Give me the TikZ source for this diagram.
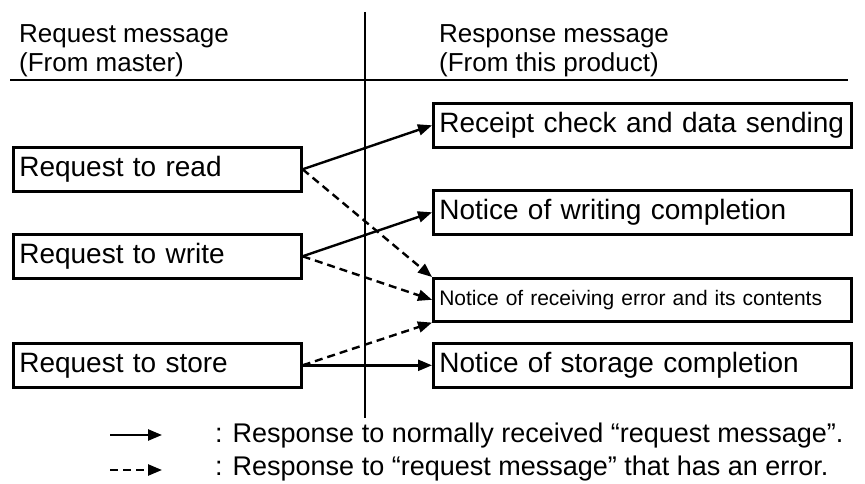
\documentclass[tikz,border=0pt]{standalone}
\usepackage{fontspec}
\setmainfont{Liberation Sans}
\usetikzlibrary{arrows.meta}
\tikzset{
  reqbox/.style={draw, line width=2.6pt, anchor=north west, minimum width=288pt, minimum height=44pt,
     text width=276pt, inner xsep=6pt, inner ysep=0pt, align=left, font=\fontsize{28}{30}\selectfont},
  resbox/.style={draw, line width=2.6pt, anchor=north west, minimum width=418pt, minimum height=44pt,
     text width=406pt, inner xsep=6pt, inner ysep=0pt, align=left, font=\fontsize{28}{30}\selectfont},
  hdr/.style={anchor=base west, inner sep=0pt, font=\fontsize{26}{29}\selectfont},
  lgd/.style={anchor=base west, inner sep=0pt, font=\fontsize{27}{30}\selectfont},
  rule/.style={line width=2pt},
  okarrow/.style={line width=2.4pt, -{Triangle[length=14pt,width=11pt]}},
  errarrow/.style={line width=2.4pt, dash pattern=on 8pt off 5pt, -{Triangle[length=14pt,width=11pt]}},
}
\begin{document}
\begin{tikzpicture}[x=1pt,y=-1pt]
\useasboundingbox (0,0) rectangle (865,484);
% frame lines
\coordinate (vtop) at (365,12);
\coordinate (vbot) at (365,418);
\coordinate (hl) at (10,80);
\coordinate (hr) at (848,80);
\draw[rule] (vtop) -- (vbot);
\draw[rule] (hl) -- (hr);
% headers
\node[hdr] (hLa) at (19,43) {Request message};
\node[hdr] (hLb) at (19,72) {(From master)};
\node[hdr] (hRa) at (439,43) {Response message};
\node[hdr] (hRb) at (439,72) {(From this product)};
% request boxes
\node[reqbox] (read) at (12,146) {Request to read};
\node[reqbox] (write) at (12,233) {Request to write};
\node[reqbox] (store) at (12,342) {Request to store};
% response boxes
\node[resbox] (receipt) at (432,102) {Receipt check and data sending};
\node[resbox] (wdone) at (432,189) {Notice of writing completion};
\node[resbox, minimum height=43pt, font=\fontsize{21}{24}\selectfont] (err) at (432,277) {Notice of receiving error and its contents};
\node[resbox] (sdone) at (432,342) {Notice of storage completion};
% connectors
\draw[okarrow] (read.east) -- (receipt.west);
\draw[errarrow] (read.east) -- (err.north west);
\draw[okarrow] (write.east) -- (wdone.west);
\draw[errarrow] (write.east) -- (err.west);
\draw[errarrow] (store.east) -- (err.south west);
\draw[okarrow] (store.east) -- (sdone.west);
% legend
\coordinate (la1) at (110,435);
\coordinate (la2) at (162,435);
\coordinate (lb1) at (110,470);
\coordinate (lb2) at (162,470);
\draw[okarrow] (la1) -- (la2);
\draw[errarrow] (lb1) -- (lb2);
\node[lgd] (lgA) at (215,442) {: Response to normally received “request message”.};
\node[lgd] (lgB) at (215,475) {: Response to “request message” that has an error.};
\end{tikzpicture}
\end{document}
